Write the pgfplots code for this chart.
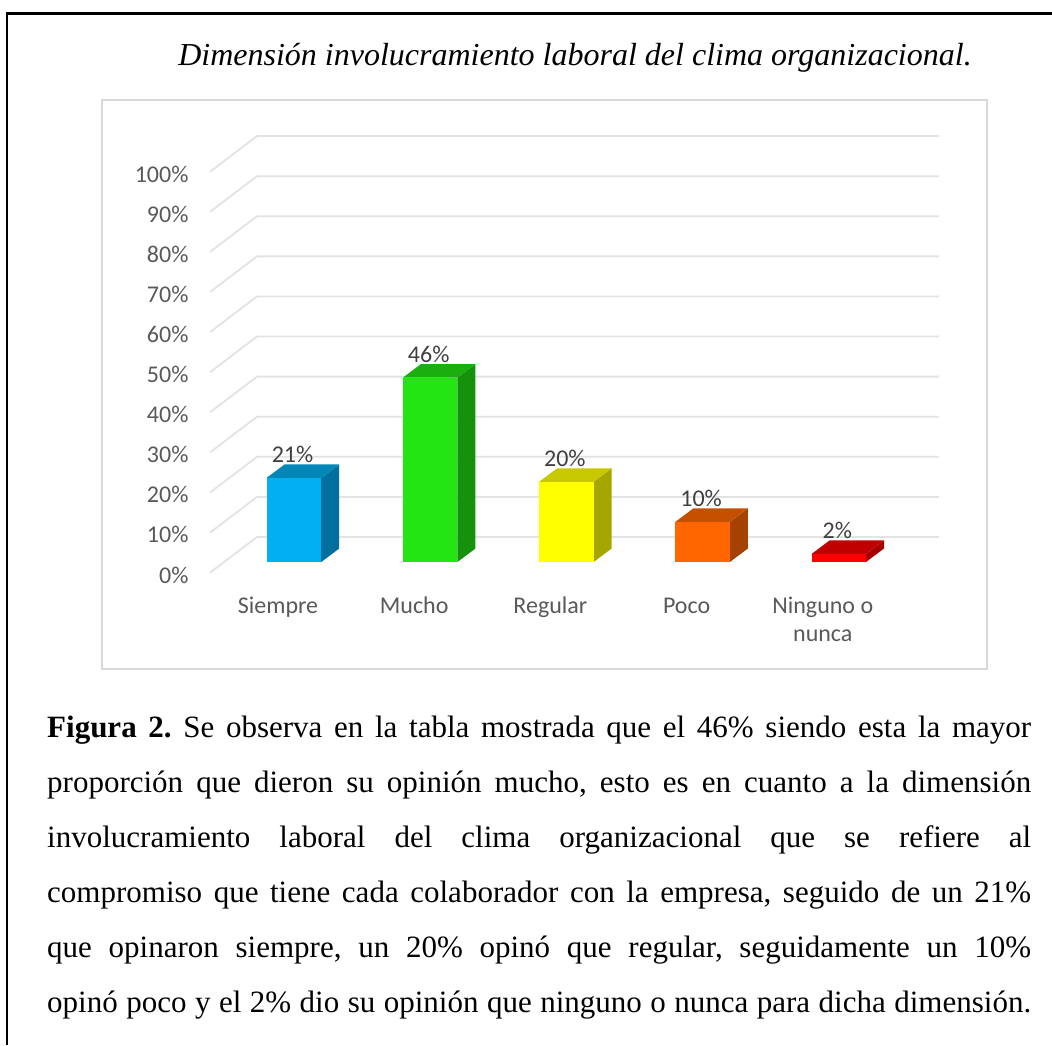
\documentclass[border=0pt]{standalone}
\usepackage{pgfplots}
\pgfplotsset{compat=1.18}
\usepackage{fontspec}
\setmainfont{Liberation Serif}
\newfontfamily\chartfont{Carlito}
\definecolor{tickc}{HTML}{595959}
\definecolor{labc}{HTML}{404040}
\definecolor{gridc}{HTML}{E3E3E3}
\definecolor{framec}{HTML}{D9D9D9}
\newcommand{\bodyline}[2]{\node[anchor=base west,inner sep=0pt] at (47pt,-#1pt) {\fontsize{31pt}{34pt}\selectfont\frenchspacing\spaceskip=0.1em plus 1em minus 0.1em\relax\makebox[984pt][s]{#2}};}
\newcommand{\hp}{\vphantom{hg}}
\begin{document}
\begin{tikzpicture}[x=1pt,y=1pt]
\path[use as bounding box] (0,0) rectangle (1052pt,-1045pt);
\draw[black,line width=2.6pt] (7pt,-1045pt) -- (7pt,-13.5pt) -- (1052pt,-13.5pt);
\draw[framec,line width=1.6pt] (102pt,-100pt) rectangle (987pt,-669pt);
\node[anchor=base,inner sep=0pt] at (575pt,-65pt) {\fontsize{32pt}{34pt}\selectfont\itshape Dimensión involucramiento laboral del clima organizacional.};
\begin{axis}[
  at={(210pt,-572.7pt)},anchor=south west,
  scale only axis,width=729pt,height=436pt,
  xmin=-0.6167,xmax=4.7357,ymin=-2.67,ymax=106.07,
  clip=false,
  axis line style={draw=none},
  major tick style={draw=none},
  xtick={0,1,2,3,4},
  xticklabels={\hp Siempre,\hp Mucho,\hp Regular,\hp Poco,{\hp Ninguno o\\nunca}},
  ytick={0,10,...,100},
  yticklabel={\pgfmathprintnumber{\tick}\%},
  /pgf/number format/assume math mode=true,
  ticklabel style={font=\chartfont\fontsize{24pt}{28pt}\selectfont,text=tickc},
  xticklabel style={xshift=-16pt,yshift=-20.5pt,align=center,anchor=north},
  yticklabel style={xshift=-18pt,yshift=-13pt,anchor=east},
]
% gridlines
\addplot[gridc,line width=1.8pt] coordinates {(-0.6167,-2.67)(-0.2717,6.23)(4.7357,6.23)};
\addplot[gridc,line width=1.8pt] coordinates {(-0.6167,7.33)(-0.2717,16.23)(4.7357,16.23)};
\addplot[gridc,line width=1.8pt] coordinates {(-0.6167,17.33)(-0.2717,26.23)(4.7357,26.23)};
\addplot[gridc,line width=1.8pt] coordinates {(-0.6167,27.33)(-0.2717,36.23)(4.7357,36.23)};
\addplot[gridc,line width=1.8pt] coordinates {(-0.6167,37.33)(-0.2717,46.23)(4.7357,46.23)};
\addplot[gridc,line width=1.8pt] coordinates {(-0.6167,47.33)(-0.2717,56.23)(4.7357,56.23)};
\addplot[gridc,line width=1.8pt] coordinates {(-0.6167,57.33)(-0.2717,66.23)(4.7357,66.23)};
\addplot[gridc,line width=1.8pt] coordinates {(-0.6167,67.33)(-0.2717,76.23)(4.7357,76.23)};
\addplot[gridc,line width=1.8pt] coordinates {(-0.6167,77.33)(-0.2717,86.23)(4.7357,86.23)};
\addplot[gridc,line width=1.8pt] coordinates {(-0.6167,87.33)(-0.2717,96.23)(4.7357,96.23)};
\addplot[gridc,line width=1.8pt] coordinates {(-0.6167,97.33)(-0.2717,106.23)(4.7357,106.23)};
% side faces
\addplot[fill={rgb,255:red,0;green,112;blue,160},draw=none] coordinates {(0.2,0)(0.3322,3.37)(0.3322,24.37)(0.2,21)} --cycle;
\addplot[fill={rgb,255:red,21;green,145;blue,11},draw=none] coordinates {(1.2,0)(1.3322,3.37)(1.3322,49.37)(1.2,46)} --cycle;
\addplot[fill={rgb,255:red,166;green,166;blue,0},draw=none] coordinates {(2.2,0)(2.3322,3.37)(2.3322,23.37)(2.2,20)} --cycle;
\addplot[fill={rgb,255:red,166;green,66;blue,0},draw=none] coordinates {(3.2,0)(3.3322,3.37)(3.3322,13.37)(3.2,10)} --cycle;
\addplot[fill={rgb,255:red,166;green,0;blue,0},draw=none] coordinates {(4.2,0)(4.3322,3.37)(4.3322,5.37)(4.2,2)} --cycle;
% top faces
\addplot[fill={rgb,255:red,0;green,135;blue,184},draw=none] coordinates {(-0.2,21)(0.2,21)(0.3322,24.37)(-0.0678,24.37)} --cycle;
\addplot[fill={rgb,255:red,26;green,175;blue,15},draw=none] coordinates {(0.8,46)(1.2,46)(1.3322,49.37)(0.9322,49.37)} --cycle;
\addplot[fill={rgb,255:red,200;green,200;blue,0},draw=none] coordinates {(1.8,20)(2.2,20)(2.3322,23.37)(1.9322,23.37)} --cycle;
\addplot[fill={rgb,255:red,199;green,80;blue,0},draw=none] coordinates {(2.8,10)(3.2,10)(3.3322,13.37)(2.9322,13.37)} --cycle;
\addplot[fill={rgb,255:red,192;green,0;blue,0},draw=none] coordinates {(3.8,2)(4.2,2)(4.3322,5.37)(3.9322,5.37)} --cycle;
% front faces
\pgfplotsset{frontbar/.style={ybar,bar width=54.5pt,bar shift=0pt,draw=none,
  nodes near coords={\pgfmathprintnumber{\pgfplotspointmeta}\%},
  nodes near coords align={anchor=center},
  every node near coord/.append style={font=\chartfont\fontsize{24pt}{26pt}\selectfont,text=labc,anchor=center,yshift=23.5pt,xshift=-1.5pt}}}
\addplot[frontbar,fill={rgb,255:red,0;green,176;blue,240}] coordinates {(0,21)};
\addplot[frontbar,fill={rgb,255:red,34;green,229;blue,18}] coordinates {(1,46)};
\addplot[frontbar,fill={rgb,255:red,255;green,255;blue,0}] coordinates {(2,20)};
\addplot[frontbar,fill={rgb,255:red,255;green,102;blue,0}] coordinates {(3,10)};
\addplot[frontbar,fill={rgb,255:red,255;green,0;blue,0}] coordinates {(4,2)};
\end{axis}
\bodyline{737}{\textbf{Figura 2.} Se observa en la tabla mostrada que el 46\% siendo esta la mayor}
\bodyline{792}{proporción que dieron su opinión mucho, esto es en cuanto a la dimensión}
\bodyline{847}{involucramiento laboral del clima organizacional que se refiere al}
\bodyline{902}{compromiso que tiene cada colaborador con la empresa, seguido de un 21\%}
\bodyline{957}{que opinaron siempre, un 20\% opinó que regular, seguidamente un 10\%}
\bodyline{1012}{opinó poco y el 2\% dio su opinión que ninguno o nunca para dicha dimensión.}
\end{tikzpicture}
\end{document}
